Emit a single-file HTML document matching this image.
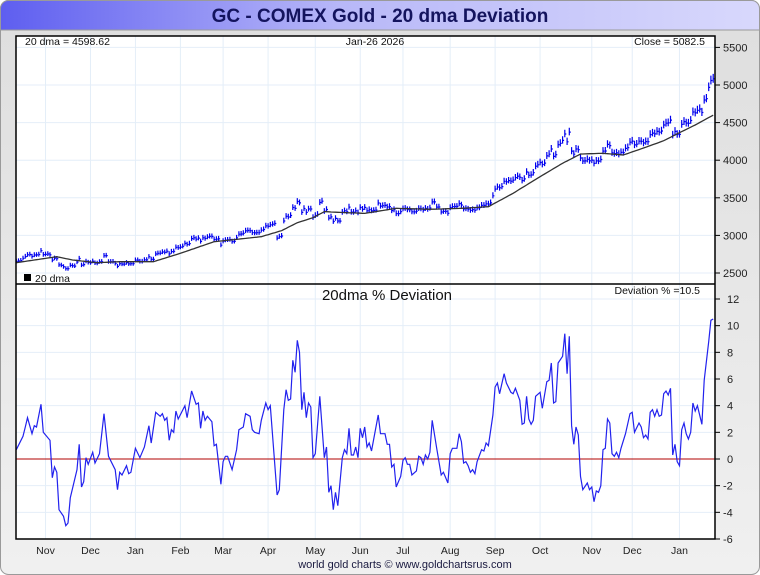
<!DOCTYPE html>
<html><head><meta charset="utf-8"><style>
html,body{margin:0;padding:0;background:#fff;}
svg{display:block;font-family:"Liberation Sans",sans-serif;}
</style></head><body>
<svg id="chart" width="760" height="575" viewBox="0 0 760 575">
<defs>
<linearGradient id="tg" x1="0" x2="1" y1="0" y2="0"><stop offset="0" stop-color="#5e5ef0"/><stop offset="0.45" stop-color="#b8b8f8"/><stop offset="1" stop-color="#d8d8fc"/></linearGradient>
<linearGradient id="bg" x1="0" x2="0" y1="0" y2="1"><stop offset="0" stop-color="#dedede"/><stop offset="1" stop-color="#f0f0f0"/></linearGradient>
</defs>
<rect x="0.5" y="0.5" width="759" height="574" rx="8" fill="url(#bg)" stroke="#9a9a9a"/>
<path d="M0.5,30 V8.5 a8,8 0 0 1 8,-8 H751.5 a8,8 0 0 1 8,8 V30 Z" fill="url(#tg)" stroke="#9a9a9a"/>
<text x="380" y="22" text-anchor="middle" font-size="19" font-weight="bold" fill="#14145e">GC - COMEX Gold - 20 dma Deviation</text>
<rect x="16" y="36" width="699" height="503" fill="#fff"/>
<g id="grid"></g>
<g id="price"></g>
<g id="dev"></g>
<rect x="16" y="36" width="699" height="503" fill="none" stroke="#000" stroke-width="1.5"/>
<line x1="16" x2="715" y1="284" y2="284" stroke="#000" stroke-width="1.5"/>
<g id="axes" font-size="11" fill="#222"></g>
<text x="25" y="45" font-size="10.5" fill="#111">20 dma =  4598.62</text>
<text x="375" y="45" text-anchor="middle" font-size="10.5" fill="#111">Jan-26  2026</text>
<text x="705" y="45" text-anchor="end" font-size="10.5" fill="#111">Close = 5082.5</text>
<rect x="24" y="274" width="7" height="7" fill="#000"/>
<text x="35" y="282" font-size="10.5" fill="#111">20 dma</text>
<text x="387" y="300" text-anchor="middle" font-size="15" fill="#111">20dma  %  Deviation</text>
<text x="700" y="294" text-anchor="end" font-size="10.5" fill="#111">Deviation % =10.5</text>
<text x="405" y="568" text-anchor="middle" font-size="11" fill="#1a1a40">world gold charts © www.goldchartsrus.com</text>
</svg>
<script>
// ---- data ----
const devDays = [0,3,4,5,7,8,9,11,12,15,16,17,18,19,21,22,23,24,27,28,29,30,31,32,34,35,37,39,41,44,45,46,47,49,50,51,53,55,57,59,60,62,64,65,66,67,68,69,70,71,72,75,76,78,80,81,82,83,84,85,87,88,89,91,92,93,94,96,98,99,101,102,104,105,106,108,109,111,112,113,116,117,119,120,121,122,123,124,125,126,127,128,129,130,131,132,133,135,137,138,139,140,141,142,143,145,146,147,148,149,150,151,152,153,154,155,156,157,158,161,162,164,165,166,167,168,169,171,172,173,174,175,176,178,179,180,181,182,183,184,185,187,189,190,192,193,194,196,197,198,199,200,201,202,203,204,205,207,208,209,210,212,213,214,215,217,218,220,221,222,224,225,226,227,228,229,230,231,233,234,236,237,238,239,240,241,243,244,245,246,247,248,249,250,251,252,254,255,256,257,258,259,260,261,262,263,264,265,266,267,268,269,271,273,274,275,277,278,279,280,281,282,283,284,285,286,287,288,289,290,291,292,293,294,295,296,297,298,299,300,301,302,303,305,306,308,309,310];
const devValues = [0.7,1.7,2.4,3.1,1.9,2.5,2.4,4.1,2.0,1.4,-1.4,-0.6,-1.0,-3.8,-4.3,-5.0,-4.8,-2.9,-0.8,1.1,-2.1,-1.7,0.1,-0.4,0.5,-0.3,0.4,3.4,0.2,-0.8,-2.3,-1.0,-1.2,-0.5,-1.1,-1.0,0.8,0.1,0.9,2.5,1.2,3.5,3.2,3.4,2.9,3.1,1.4,2.2,2.0,3.6,3.0,4.0,3.1,5.1,4.1,4.2,2.3,3.6,2.9,3.2,2.8,1.0,1.1,-1.9,-0.2,0.2,0.2,-0.8,0.7,2.2,2.4,3.4,3.2,2.2,2.0,1.9,2.9,4.2,3.7,4.0,-2.7,-2.3,3.7,5.2,4.4,4.5,7.4,6.5,8.9,8.0,3.7,5.0,3.1,4.2,3.9,0.1,0.4,4.7,0.1,0.9,-2.5,-2.0,-3.8,-2.5,-3.5,0.1,0.7,0.4,2.3,0.3,0.3,0.9,0.1,2.3,1.6,2.4,0.9,1.2,0.6,3.3,1.9,1.9,1.1,1.1,-0.6,-0.4,-2.1,-1.3,-0.1,0.1,-0.4,-0.4,-1.2,-0.9,0.2,0.1,-0.4,0.3,0.0,0.5,2.9,0.8,-1.2,-1.0,-1.8,0.4,0.8,0.8,1.9,1.3,-0.3,-0.2,-0.5,-1.0,-0.8,-1.1,-0.2,0.7,0.6,1.2,1.0,3.3,5.4,5.7,4.9,6.4,5.7,5.0,4.9,5.3,4.4,2.6,2.7,4.7,3.0,2.6,2.9,4.7,5.0,3.8,5.8,5.9,7.2,4.2,4.3,7.2,7.7,9.4,6.4,9.2,2.5,1.1,2.4,1.8,-1.3,-2.3,-1.8,-2.3,-2.1,-3.2,-2.4,-2.5,-2.0,0.7,0.8,3.0,2.7,0.4,0.2,0.5,0.1,0.8,1.9,3.4,3.5,2.0,2.7,2.4,1.6,1.8,1.5,3.5,3.7,3.2,3.7,3.2,3.3,4.9,5.1,4.8,5.3,0.3,1.1,-0.2,-0.5,2.2,2.7,1.9,1.5,2.0,4.2,3.6,4.0,2.6,5.9,8.8,10.4,10.5];
const maDays = [0,18,25,36,46,61,73,88,109,118,125,132,137,147,155,169,184,198,210,221,233,243,251,261,270,280,288,295,302,310];
const maValues = [2637,2717,2673,2637,2650,2650,2762,2916,2983,3063,3169,3235,3316,3302,3293,3360,3347,3360,3382,3560,3781,3959,4082,4092,4069,4172,4259,4366,4468,4599];
const months = ["Nov","Dec","Jan","Feb","Mar","Apr","May","Jun","Jul","Aug","Sep","Oct","Nov","Dec","Jan"];
const monthDays = [13,33,53,73,92,112,133,153,172,193,213,233,256,274,295];
const priceTicks = [2500,3000,3500,4000,4500,5000,5500];
const devTicks = [-6,-4,-2,0,2,4,6,8,10,12];

// ---- scales ----
const X0=16, X1=715, NDAYS=310.5;
const xS = d => X0 + (d/NDAYS)*(X1-X0-1) + 0.3;
const pY = p => 273 - (p-2500)*(188/2500);
const dY = v => 459 - v*(240/18);
const NS='http://www.w3.org/2000/svg';
function mk(tag, parent, attrs){const e=document.createElementNS(NS,tag);for(const k in attrs)e.setAttribute(k,attrs[k]);parent.appendChild(e);return e;}
function maAt(d){for(let i=1;i<maDays.length;i++){if(d<=maDays[i]){const t=(d-maDays[i-1])/(maDays[i]-maDays[i-1]);return maValues[i-1]+t*(maValues[i]-maValues[i-1]);}}return maValues[maValues.length-1];}

const grid=document.getElementById('grid');
monthDays.forEach((d,i)=>{
  const l=mk('line',grid,{x1:xS(d),x2:xS(d),y1:36,y2:539,stroke:'#e4eef8','stroke-width':1});
  
  
});
priceTicks.forEach(p=>{
  const l=mk('line',grid,{x1:16,x2:715,y1:pY(p),y2:pY(p),stroke:'#e4eef8','stroke-width':1});
  
  
});
devTicks.forEach(v=>{
  if(v===0) return;
  const l=mk('line',grid,{x1:16,x2:715,y1:dY(v),y2:dY(v),stroke:'#e4eef8','stroke-width':1});
  
  
});

// price panel
const price=document.getElementById('price');
let maPts=[];
for(let d=0; d<=310; d++){maPts.push(xS(d).toFixed(1)+','+pY(maAt(d)).toFixed(1));}
let bars='';
let j=0;
for(let d=0; d<=310; d++){
  while(j<devDays.length-1 && devDays[j+1]<=d) j++;
  const c=maAt(d)*(1+devValues[j]/100);
  const x=xS(d).toFixed(1);
  const hi=pY(c*1.013), lo=pY(c*0.99);
  bars+=`M${x},${hi.toFixed(1)}V${lo.toFixed(1)}M${x},${pY(c).toFixed(1)}h1.5`;
}
const bp=mk('path',price,{d:bars,stroke:'#0000ee','stroke-width':1.2,fill:'none'});


const ml=mk('polyline',price,{points:maPts.join(' '),stroke:'#333','stroke-width':1.3,fill:'none'});



// deviation panel
const dev=document.getElementById('dev');
const z=mk('line',dev,{x1:16,x2:715,y1:dY(0),y2:dY(0),stroke:'#b00000','stroke-width':1});


const dl=mk('polyline',dev,{points:devDays.map((d,i)=>xS(d).toFixed(1)+','+dY(devValues[i]).toFixed(1)).join(' '),stroke:'#2222ee','stroke-width':1.2,fill:'none'});



// axes
const axes=document.getElementById('axes');
priceTicks.forEach(p=>{
  const t=mk('line',axes,{x1:715,x2:720,y1:pY(p),y2:pY(p),stroke:'#000'});
  
  
  const s=mk('text',axes,{x:723,y:pY(p)+4});
  s.textContent=p;
  
  
});
devTicks.forEach(v=>{
  const t=mk('line',axes,{x1:715,x2:720,y1:dY(v),y2:dY(v),stroke:'#000'});
  
  
  const s=mk('text',axes,{x:v<0?723:727,y:dY(v)+4});
  s.textContent=v;
  
  
});
months.forEach((m,i)=>{
  const s=mk('text',axes,{x:xS(monthDays[i]),y:554,'text-anchor':'middle','font-size':10.5});
  s.textContent=m;
  
  
});
</script>
</body></html>
